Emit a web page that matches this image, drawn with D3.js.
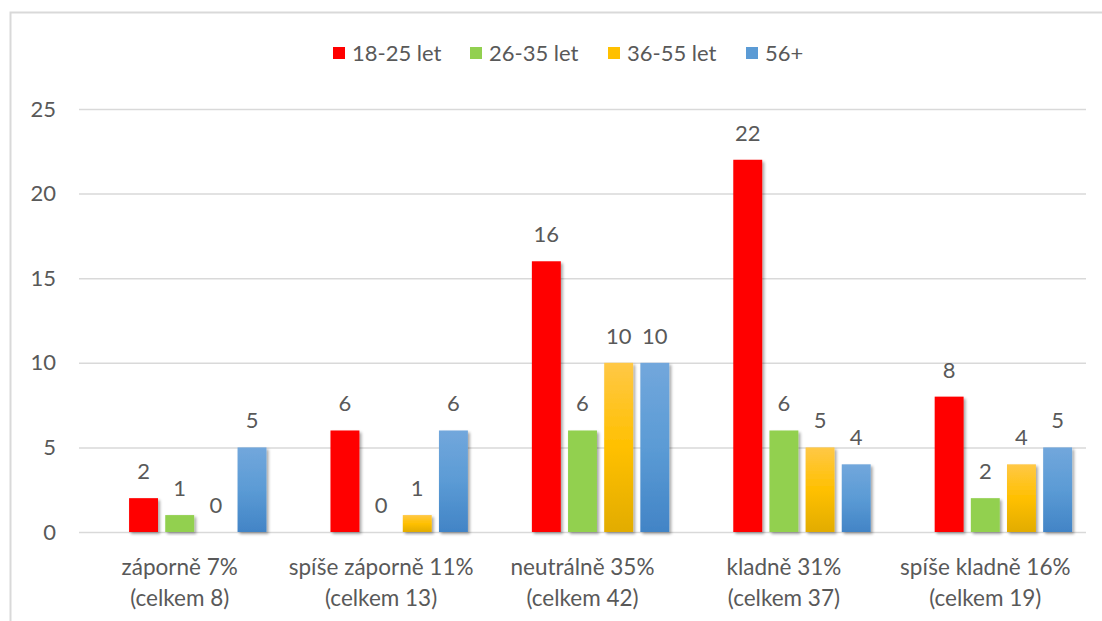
<!DOCTYPE html>
<html>
<head>
<meta charset="utf-8">
<script src="https://cdn.jsdelivr.net/npm/d3@7"></script>
<style>
  body { margin: 0; background: #fff; }
  svg text { font-family: Lato, "Open Sans", sans-serif; fill: #595959; }
</style>
</head>
<body>
<svg width="1102" height="621"></svg>
<script>
// data
const categories = [
  ["záporně 7%", "(celkem 8)"],
  ["spíše záporně 11%", "(celkem 13)"],
  ["neutrálně 35%", "(celkem 42)"],
  ["kladně 31%", "(celkem 37)"],
  ["spíše kladně 16%", "(celkem 19)"]
];
const seriesNames = ["18-25 let", "26-35 let", "36-55 let", "56+"];
const v1825 = [2, 6, 16, 22, 8];
const v2635 = [1, 0, 6, 6, 2];
const v3655 = [0, 1, 10, 5, 4];
const v56 = [5, 6, 10, 4, 5];
const yTicks = [0, 5, 10, 15, 20, 25];

const seriesValues = [v1825, v2635, v3655, v56];
const colors = ["#ff0000", "#92d050", "#ffc000", "#5b9bd5"];
const fs = 22;

const svg = d3.select("svg");
const defs = svg.append("defs");

// drop shadow for bars
const f = defs.append("filter").attr("id", "shadow")
  .attr("x", "-20%").attr("y", "-10%").attr("width", "150%").attr("height", "130%");
f.append("feGaussianBlur").attr("in", "SourceAlpha").attr("stdDeviation", 1.5).attr("result", "b");
f.append("feOffset").attr("in", "b").attr("dx", 1.5).attr("dy", 1.5).attr("result", "o");
f.append("feComponentTransfer").attr("in", "o").attr("result", "s")
  .append("feFuncA").attr("type", "linear").attr("slope", 0.35);
const fm = f.append("feMerge");
fm.append("feMergeNode").attr("in", "s");
fm.append("feMergeNode").attr("in", "SourceGraphic");

// gradients (yellow, blue)
function grad(id, stops) {
  const g = defs.append("linearGradient").attr("id", id)
    .attr("x1", 0).attr("y1", 0).attr("x2", 0).attr("y2", 1);
  stops.forEach(s => g.append("stop").attr("offset", s[0]).attr("stop-color", s[1]));
}
grad("g0", [[0, "#ff0000"], [1, "#ff0000"]]);
grad("g1", [[0, "#92d050"], [1, "#92d050"]]);
grad("g2", [[0, "#ffc846"], [0.5, "#ffc000"], [1, "#e2ac00"]]);
grad("g3", [[0, "#72a7dc"], [0.5, "#5b9bd5"], [1, "#4284c6"]]);

// chart border (light frame, left + top)
svg.append("path").attr("d", "M10.5,621 V12.5 H1102")
  .attr("fill", "none").attr("stroke", "#d9d9d9").attr("stroke-width", 2);

const plotL = 79, plotR = 1086, plotT = 109, plotB = 532;

const x0 = d3.scaleBand().domain(d3.range(categories.length)).range([plotL, plotR]);
// first slot is an empty placeholder series in the original chart
const slots = ["_"].concat(seriesNames);
const x1 = d3.scaleBand().domain(slots).range([0, x0.bandwidth()])
  .paddingInner(0.2).paddingOuter(0.385);
const y = d3.scaleLinear().domain([0, 25]).range([plotB, plotT]);

// grid
const yAxis = d3.axisLeft(y).tickValues(yTicks).tickSize(-(plotR - plotL)).tickPadding(23);
const ga = svg.append("g").attr("transform", `translate(${plotL},0)`).call(yAxis);
ga.select(".domain").remove();
ga.selectAll(".tick line").attr("stroke", "#d9d9d9").attr("stroke-width", 1.5);
ga.selectAll(".tick text").attr("font-size", fs).attr("font-family", null).style("fill", "#595959");

// bars
const groups = svg.append("g").selectAll("g")
  .data(categories.map((c, i) => i)).join("g")
  .attr("transform", i => `translate(${x0(i)},0)`);

groups.selectAll("rect")
  .data(i => seriesNames.map((s, k) => ({ s, k, v: seriesValues[k][i] })))
  .join("rect")
  .filter(d => d.v > 0)
  .attr("x", d => x1(d.s))
  .attr("width", x1.bandwidth())
  .attr("y", d => y(d.v))
  .attr("height", d => y(0) - y(d.v))
  .attr("fill", d => `url(#g${d.k})`)
  .attr("filter", "url(#shadow)");

groups.selectAll("text.lbl")
  .data(i => seriesNames.map((s, k) => ({ s, k, v: seriesValues[k][i] })))
  .join("text").attr("class", "lbl")
  .attr("x", d => x1(d.s) + x1.bandwidth() / 2)
  .attr("y", d => y(d.v) - 19)
  .attr("text-anchor", "middle")
  .attr("font-size", fs)
  .text(d => d.v);

// category labels
const cl = svg.append("g").selectAll("text")
  .data(categories).join("text")
  .attr("x", (c, i) => x0(i) + x0.bandwidth() / 2)
  .attr("text-anchor", "middle")
  .attr("font-size", fs + 0.5);
cl.append("tspan").attr("x", (c, i) => x0(i) + x0.bandwidth() / 2).attr("y", 575).text(c => c[0]);
cl.append("tspan").attr("x", (c, i) => x0(i) + x0.bandwidth() / 2).attr("y", 606).text(c => c[1]);

// legend
const legendX = [333, 470, 608, 746];
const lg = svg.append("g").selectAll("g").data(seriesNames).join("g")
  .attr("transform", (d, k) => `translate(${legendX[k]},47)`);
lg.append("rect").attr("width", 12).attr("height", 12).attr("fill", (d, k) => colors[k]);
lg.append("text").attr("x", 19).attr("y", 13.5).attr("font-size", fs).text(d => d);
</script>
</body>
</html>
